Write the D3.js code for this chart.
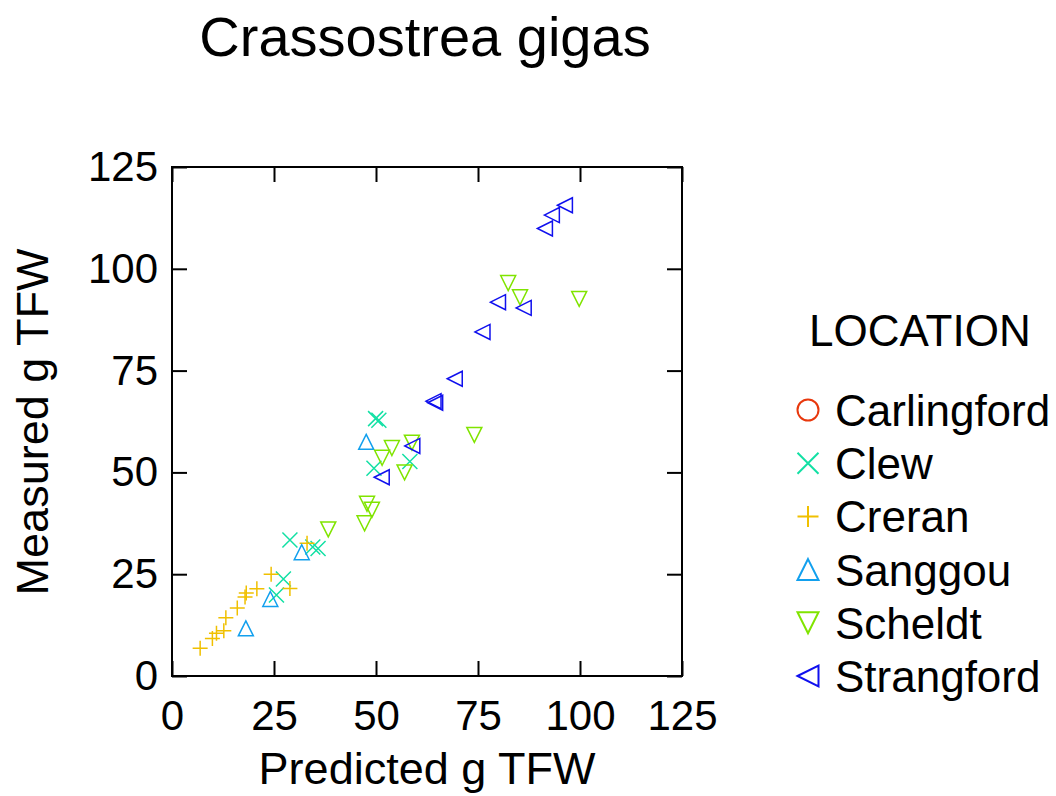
<!DOCTYPE html>
<html>
<head>
<meta charset="utf-8">
<script src="https://cdn.jsdelivr.net/npm/d3@7"></script>
<style>
  body { margin: 0; background: #fff; }
  text { font-family: Arial, "Liberation Sans", sans-serif; fill: #000; }
</style>
</head>
<body>
<svg id="chart" width="1056" height="796"></svg>
<script>
// data
var locations = ['Carlingford', 'Clew', 'Creran', 'Sanggou', 'Scheldt', 'Strangford'];
var colors = ['#e8380d', '#12e0a4', '#f0c000', '#12a0ee', '#80e400', '#1010ee'];
var shapes = ['circle', 'x', 'plus', 'up', 'down', 'left'];

var carlingfordPred = [];
var carlingfordMeas = [];
var clewPred = [49.9, 50.7, 49.5, 58.3, 28.9, 34.5, 35.8, 27.3, 25.6];
var clewMeas = [63.2, 62.8, 51.0, 52.7, 33.4, 31.7, 31.3, 23.8, 19.9];
var creranPred = [6.9, 9.9, 10.9, 12.7, 13.2, 16.0, 17.9, 18.2, 20.8, 24.3, 28.9, 33.1];
var creranMeas = [6.8, 9.2, 10.5, 11.1, 14.3, 16.7, 19.4, 20.4, 21.4, 25.0, 21.5, 32.6];
var sanggouPred = [18.1, 24.1, 31.8, 47.6];
var sanggouMeas = [11.7, 18.9, 30.4, 57.5];
var scheldtPred = [82.4, 85.3, 99.8, 74.1, 58.8, 53.9, 51.5, 57.0, 47.8, 49.0, 47.2, 38.3];
var scheldtMeas = [96.5, 93.0, 92.6, 59.2, 57.3, 56.0, 53.6, 50.0, 42.3, 40.8, 37.5, 36.0];
var strangfordPred = [96.3, 93.1, 91.4, 79.9, 86.2, 76.1, 69.3, 64.1, 64.5, 58.9, 51.4];
var strangfordMeas = [115.6, 113.2, 109.9, 91.8, 90.4, 84.5, 73.0, 67.5, 67.1, 56.5, 48.8];

var predicted = [carlingfordPred, clewPred, creranPred, sanggouPred, scheldtPred, strangfordPred];
var measured = [carlingfordMeas, clewMeas, creranMeas, sanggouMeas, scheldtMeas, strangfordMeas];
var tickValues = [0, 25, 50, 75, 100, 125];

var points = [];
for (var i = 0; i < locations.length; i++) {
  for (var j = 0; j < predicted[i].length; j++) {
    points.push({loc: i, x: predicted[i][j], y: measured[i][j]});
  }
}

var svg = d3.select('#chart');
var x = d3.scaleLinear().domain([0, 125]).range([172, 682]);
var y = d3.scaleLinear().domain([0, 125]).range([676, 167]);

// symbol path for a marker of size s centred on 0,0
function symbolPath(shape, s) {
  var h = s / 2;
  if (shape == 'circle') {
    return 'M' + h + ',0A' + h + ',' + h + ' 0 1,1 ' + (-h) + ',0A' + h + ',' + h + ' 0 1,1 ' + h + ',0Z';
  }
  if (shape == 'x') return 'M' + (-h) + ',' + (-h) + 'L' + h + ',' + h + 'M' + (-h) + ',' + h + 'L' + h + ',' + (-h);
  if (shape == 'plus') return 'M' + (-h) + ',0L' + h + ',0M0,' + (-h) + 'L0,' + h;
  if (shape == 'up') return 'M0,' + (-h) + 'L' + h + ',' + h + 'L' + (-h) + ',' + h + 'Z';
  if (shape == 'down') return 'M0,' + h + 'L' + h + ',' + (-h) + 'L' + (-h) + ',' + (-h) + 'Z';
  if (shape == 'left') return 'M' + (-h) + ',0L' + h + ',' + (-h) + 'L' + h + ',' + h + 'Z';
}

// title
svg.append('text')
  .attr('x', 425).attr('y', 56)
  .attr('text-anchor', 'middle')
  .style('font-size', '56px')
  .text('Crassostrea gigas');

// frame
svg.append('rect')
  .attr('x', x(0)).attr('y', y(125))
  .attr('width', x(125) - x(0)).attr('height', y(0) - y(125))
  .attr('fill', 'none').attr('stroke', '#000').attr('stroke-width', 2);

function styleAxis(g) {
  g.select('.domain').remove();
  g.selectAll('.tick line').attr('stroke', '#000').attr('stroke-width', 2);
  g.selectAll('.tick text').style('font-size', '42px').attr('fill', '#000');
}

svg.append('g')
  .attr('transform', 'translate(0,' + y(0) + ')')
  .call(d3.axisBottom(x).tickValues(tickValues).tickSize(-15).tickPadding(24).tickFormat(d3.format('d')))
  .call(styleAxis);
svg.append('g')
  .attr('transform', 'translate(' + x(0) + ',0)')
  .call(d3.axisLeft(y).tickValues(tickValues).tickSize(-15).tickPadding(14).tickFormat(d3.format('d')))
  .call(styleAxis);
svg.append('g')
  .attr('transform', 'translate(0,' + y(125) + ')')
  .call(d3.axisTop(x).tickValues(tickValues).tickSize(-15).tickFormat(''))
  .call(styleAxis);
svg.append('g')
  .attr('transform', 'translate(' + x(125) + ',0)')
  .call(d3.axisRight(y).tickValues(tickValues).tickSize(-15).tickFormat(''))
  .call(styleAxis);

// axis titles
svg.append('text')
  .attr('x', 427).attr('y', 784)
  .attr('text-anchor', 'middle')
  .style('font-size', '45px')
  .text('Predicted g TFW');
svg.append('text')
  .attr('transform', 'translate(48,422) rotate(-90)')
  .attr('text-anchor', 'middle')
  .style('font-size', '45px')
  .text('Measured g TFW');

// points
svg.append('g').selectAll('path')
  .data(points)
  .enter().append('path')
  .attr('transform', function(d) { return 'translate(' + x(d.x) + ',' + y(d.y) + ')'; })
  .attr('d', function(d) { return symbolPath(shapes[d.loc], 15); })
  .attr('fill', 'none')
  .attr('stroke', function(d) { return colors[d.loc]; })
  .attr('stroke-width', 1.5);

// legend
var legend = svg.append('g');
legend.append('text')
  .attr('x', 809).attr('y', 346)
  .style('font-size', '44px')
  .text('LOCATION');

var item = legend.selectAll('.item')
  .data(locations)
  .enter().append('g')
  .attr('class', 'item')
  .attr('transform', function(d, i) { return 'translate(0,' + (410 + i * 53.2) + ')'; });
item.append('path')
  .attr('transform', 'translate(808,0)')
  .attr('d', function(d, i) { return symbolPath(shapes[i], 21); })
  .attr('fill', 'none')
  .attr('stroke', function(d, i) { return colors[i]; })
  .attr('stroke-width', 2);
item.append('text')
  .attr('x', 835).attr('y', 16)
  .style('font-size', '44px')
  .text(function(d) { return d; });
</script>
</body>
</html>
